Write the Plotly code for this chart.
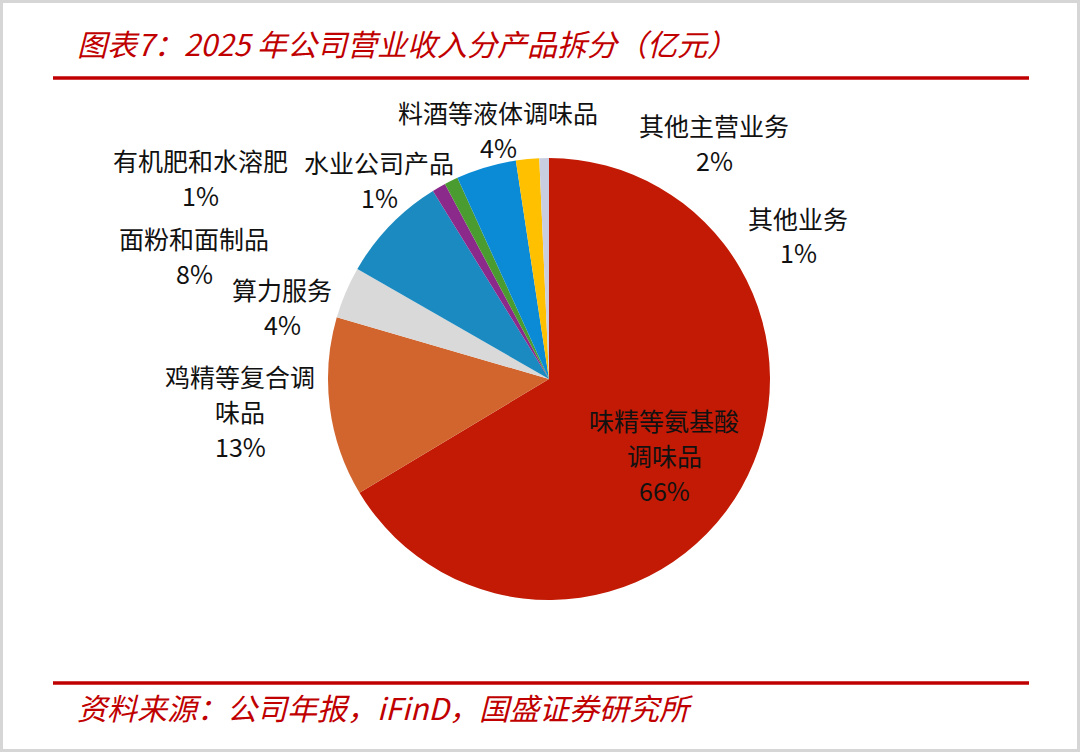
import plotly.graph_objects as go

# ---- data ----
categories = ["味精等氨基酸调味品", "鸡精等复合调味品", "算力服务", "面粉和面制品",
              "有机肥和水溶肥", "水业公司产品", "料酒等液体调味品", "其他主营业务", "其他业务"]
display_labels = [["味精等氨基酸", "调味品"], ["鸡精等复合调", "味品"], ["算力服务"], ["面粉和面制品"],
                  ["有机肥和水溶肥"], ["水业公司产品"], ["料酒等液体调味品"], ["其他主营业务"], ["其他业务"]]
shares = [66.4, 13.1, 3.8, 7.9, 1.0, 1.0, 4.4, 1.7, 0.7]
colors = ["#C21A05", "#D2652D", "#D9D9D9", "#1B8AC0", "#8C2A8C", "#4A9B30",
          "#0B8BD6", "#FFC000", "#C8CEE0"]
title_text = "图表7：2025 年公司营业收入分产品拆分（亿元）"
source_text = "资料来源：公司年报，iFinD，国盛证券研究所"

# ---- layout constants ----
W, H = 1080, 752
cx, cy, r = 549, 379, 221
# label line positions in pixels (layout only): x center, list of line y centers
label_pos = [
    (664, [420, 455, 490]),
    (240, [376, 411, 446]),
    (282, [289, 324]),
    (194, [238, 273]),
    (200, [160, 195]),
    (379, [162, 197]),
    (498, [112, 147]),
    (714, [125, 160]),
    (798, [218, 252]),
]

RED = "#C00000"
CJK = "Noto Sans CJK SC, Noto Sans, sans-serif"

fig = go.Figure()
fig.add_trace(go.Pie(
    labels=categories, values=shares, sort=False, direction="clockwise", rotation=0,
    marker=dict(colors=colors, line=dict(width=0)),
    textinfo="none", hoverinfo="label+percent", showlegend=False,
    domain=dict(x=[(cx - r) / W, (cx + r) / W], y=[(H - cy - r) / H, (H - cy + r) / H]),
))

total = sum(shares)
annotations = []
for lines, v, (px, ys) in zip(display_labels, shares, label_pos):
    pct = round(v / total * 100)
    texts = lines + [f"{pct}%"]
    for t, py in zip(texts, ys):
        annotations.append(dict(
            x=px / W, y=1 - py / H, xref="paper", yref="paper", xanchor="center", yanchor="middle",
            text=t, showarrow=False, align="center", borderpad=0,
            font=dict(family=CJK, size=25, color="#111111"),
        ))

annotations.append(dict(x=76 / W, y=1 - 43 / H, xref="paper", yref="paper", xanchor="left",
                        yanchor="middle", text=title_text, showarrow=False, borderpad=0,
                        font=dict(family=CJK, size=30, color=RED, style="italic")))
annotations.append(dict(x=76 / W, y=1 - 707 / H, xref="paper", yref="paper", xanchor="left",
                        yanchor="middle", text=source_text, showarrow=False, borderpad=0,
                        font=dict(family=CJK, size=30, color=RED, style="italic")))

shapes = [
    dict(type="line", xref="paper", yref="paper", x0=53 / W, x1=1029 / W, y0=1 - 78 / H, y1=1 - 78 / H,
         line=dict(color=RED, width=3.5)),
    dict(type="line", xref="paper", yref="paper", x0=53 / W, x1=1029 / W, y0=1 - 683 / H, y1=1 - 683 / H,
         line=dict(color=RED, width=3.5)),
    dict(type="rect", xref="paper", yref="paper", x0=0, x1=1, y0=0, y1=1,
         line=dict(color="#D6D6D6", width=6)),
]

fig.update_layout(
    width=W, height=H, margin=dict(l=0, r=0, t=0, b=0),
    paper_bgcolor="white", plot_bgcolor="white",
    annotations=annotations, shapes=shapes,
)

fig.write_html("out.html")
